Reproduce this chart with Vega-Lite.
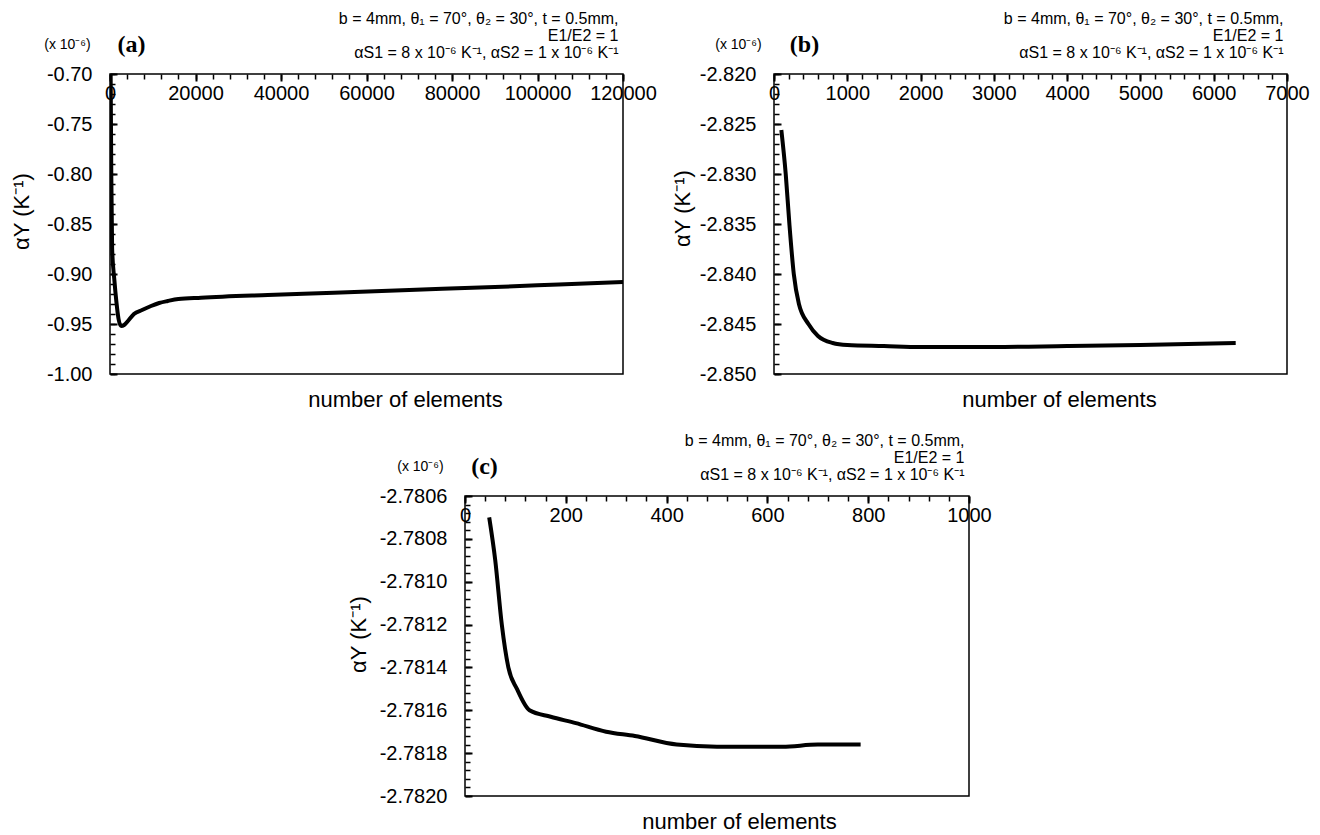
{
  "$schema": "https://vega.github.io/schema/vega-lite/v6.json",
  "padding": {"left": 9, "top": 9, "right": 5, "bottom": 5},
  "background": "white",
  "config": {
    "font": "Liberation Sans",
    "view": {"stroke": "black", "strokeWidth": 1.5},
    "axis": {"grid": false, "domain": false, "labelFont": "Liberation Sans", "titleFont": "Liberation Sans", "labelColor": "black", "titleColor": "black", "tickColor": "black", "tickWidth": 1.5, "tickOpacity": 1, "labelFontSize": 20, "titleFontWeight": "normal", "labelFlush": false, "labelOverlap": false, "labelBound": false}
  },
  "datasets": {
    "a": [
      {"elements": 150, "alpha": -0.700}, {"elements": 300, "alpha": -0.800}, {"elements": 500, "alpha": -0.875},
      {"elements": 1000, "alpha": -0.905}, {"elements": 1500, "alpha": -0.928}, {"elements": 2000, "alpha": -0.945},
      {"elements": 2600, "alpha": -0.952}, {"elements": 3300, "alpha": -0.951}, {"elements": 4200, "alpha": -0.947},
      {"elements": 5600, "alpha": -0.940}, {"elements": 7500, "alpha": -0.936}, {"elements": 9600, "alpha": -0.932},
      {"elements": 11500, "alpha": -0.929}, {"elements": 13500, "alpha": -0.927}, {"elements": 16000, "alpha": -0.925},
      {"elements": 21300, "alpha": -0.9237}, {"elements": 36900, "alpha": -0.921}, {"elements": 52400, "alpha": -0.9187},
      {"elements": 70000, "alpha": -0.916}, {"elements": 90000, "alpha": -0.913}, {"elements": 105000, "alpha": -0.9105},
      {"elements": 120000, "alpha": -0.908}
    ],
    "b": [
      {"elements": 100, "alpha": -2.8256}, {"elements": 160, "alpha": -2.8300}, {"elements": 210, "alpha": -2.8350},
      {"elements": 270, "alpha": -2.8400}, {"elements": 340, "alpha": -2.8430}, {"elements": 470, "alpha": -2.8450},
      {"elements": 600, "alpha": -2.8462}, {"elements": 800, "alpha": -2.8469}, {"elements": 1000, "alpha": -2.8471},
      {"elements": 1500, "alpha": -2.8472}, {"elements": 2000, "alpha": -2.8473}, {"elements": 3000, "alpha": -2.8473},
      {"elements": 4000, "alpha": -2.8472}, {"elements": 5000, "alpha": -2.8471}, {"elements": 6300, "alpha": -2.8469}
    ],
    "c": [
      {"elements": 48, "alpha": -2.78070}, {"elements": 60, "alpha": -2.78090}, {"elements": 73, "alpha": -2.78120},
      {"elements": 86, "alpha": -2.78140}, {"elements": 103, "alpha": -2.78150}, {"elements": 128, "alpha": -2.78160},
      {"elements": 170, "alpha": -2.78163}, {"elements": 220, "alpha": -2.78166}, {"elements": 280, "alpha": -2.78170},
      {"elements": 337, "alpha": -2.78172}, {"elements": 420, "alpha": -2.78176}, {"elements": 500, "alpha": -2.78177},
      {"elements": 630, "alpha": -2.78177}, {"elements": 700, "alpha": -2.78176}, {"elements": 785, "alpha": -2.78176}
    ]
  },
  "vconcat": [
    {
      "hconcat": [
        {
          "width": 513, "height": 300,
          "layer": [
            {
              "data": {"name": "a"},
              "mark": {"type": "line", "color": "black", "strokeWidth": 4, "clip": true, "interpolate": "monotone"},
              "encoding": {
                "x": {"field": "elements", "type": "quantitative", "scale": {"domain": [0, 120000], "nice": false, "zero": false},
                  "axis": {"orient": "top", "values": [0, 20000, 40000, 60000, 80000, 100000, 120000], "format": "d", "ticks": true, "tickSize": -7, "tickWidth": 2, "labelPadding": -12, "labelBaseline": "middle",
                    "title": ["b = 4mm, θ₁ = 70°, θ₂ = 30°, t = 0.5mm,", "E1/E2 = 1", "αS1 = 8 x 10⁻⁶ K⁻¹, αS2 = 1 x 10⁻⁶ K⁻¹"],
                    "titleFontSize": 16, "titleAlign": "right", "titleX": 508, "titleY": -56, "titleBaseline": "middle", "titleLineHeight": 17}},
                "y": {"field": "alpha", "type": "quantitative", "scale": {"domain": [-1.0, -0.7], "nice": false, "zero": false},
                  "axis": {"orient": "left", "values": [-1.0, -0.95, -0.9, -0.85, -0.8, -0.75, -0.7], "format": ".2f", "labelExpr": "replace(datum.label, '−', '-')", "ticks": true, "tickSize": -7, "tickWidth": 2, "labelPadding": 25,
                    "title": "αY (K⁻¹)", "titleFontSize": 22, "titleAngle": -90, "titleX": -89, "titleY": 137, "titleAlign": "center", "titleBaseline": "middle"}}
              }
            },
            {
              "data": {"values": []},
              "mark": {"type": "point"},
              "encoding": {
                "x": {"field": "elements", "type": "quantitative", "scale": {"domain": [0, 120000], "nice": false, "zero": false},
                  "axis": {"orient": "top", "values": [0, 120000], "labels": false, "ticks": false,
                    "title": "(a)", "titleFont": "Liberation Serif", "titleFontWeight": "bold", "titleFontSize": 24, "titleX": 21, "titleY": -30, "titleAlign": "center", "titleBaseline": "middle"}},
                "y": {"field": "alpha", "type": "quantitative", "scale": {"domain": [-1.0, -0.7], "nice": false, "zero": false},
                  "axis": {"orient": "left", "values": [-1.0, -0.7], "labels": false, "ticks": false,
                    "title": "(x 10⁻⁶)", "titleFontSize": 14, "titleAngle": 0, "titleX": -43, "titleY": -30, "titleAlign": "center", "titleBaseline": "middle"}}
              }
            },
            {
              "data": {"values": []},
              "mark": {"type": "point"},
              "encoding": {
                "x": {"field": "elements", "type": "quantitative", "scale": {"domain": [0, 120000], "nice": false, "zero": false},
                  "axis": {"orient": "top", "values": [0,4000,8000,12000,16000,20000,24000,28000,32000,36000,40000,44000,48000,52000,56000,60000,64000,68000,72000,76000,80000,84000,88000,92000,96000,100000,104000,108000,112000,116000,120000], "labels": false, "ticks": true, "tickSize": -5, "title": null}},
                "y": {"field": "alpha", "type": "quantitative", "scale": {"domain": [-1.0, -0.7], "nice": false, "zero": false},
                  "axis": {"orient": "left", "values": [-1,-0.99,-0.98,-0.97,-0.96,-0.95,-0.94,-0.93,-0.92,-0.91,-0.9,-0.89,-0.88,-0.87,-0.86,-0.85,-0.84,-0.83,-0.82,-0.81,-0.8,-0.79,-0.78,-0.77,-0.76,-0.75,-0.74,-0.73,-0.72,-0.71,-0.7], "labels": false, "ticks": true, "tickSize": -5, "title": null}}
              }
            },
            {
              "data": {"values": []},
              "mark": {"type": "point"},
              "encoding": {
                "x": {"field": "elements", "type": "quantitative", "scale": {"domain": [0, 120000], "nice": false, "zero": false},
                  "axis": {"orient": "bottom", "labels": false, "ticks": false, "title": "number of elements", "titleFontSize": 22, "titleX": 295, "titleY": 25, "titleAlign": "center", "titleBaseline": "middle"}}
              }
            }
          ],
          "resolve": {"axis": {"x": "independent", "y": "independent"}}
        },
        {
          "width": 513, "height": 300,
          "layer": [
            {
              "data": {"name": "b"},
              "mark": {"type": "line", "color": "black", "strokeWidth": 4, "clip": true, "interpolate": "monotone"},
              "encoding": {
                "x": {"field": "elements", "type": "quantitative", "scale": {"domain": [0, 7000], "nice": false, "zero": false},
                  "axis": {"orient": "top", "values": [0, 1000, 2000, 3000, 4000, 5000, 6000, 7000], "format": "d", "ticks": true, "tickSize": -7, "tickWidth": 2, "labelPadding": -12, "labelBaseline": "middle",
                    "title": ["b = 4mm, θ₁ = 70°, θ₂ = 30°, t = 0.5mm,", "E1/E2 = 1", "αS1 = 8 x 10⁻⁶ K⁻¹, αS2 = 1 x 10⁻⁶ K⁻¹"],
                    "titleFontSize": 16, "titleAlign": "right", "titleX": 509, "titleY": -56, "titleBaseline": "middle", "titleLineHeight": 17}},
                "y": {"field": "alpha", "type": "quantitative", "scale": {"domain": [-2.85, -2.82], "nice": false, "zero": false},
                  "axis": {"orient": "left", "values": [-2.85, -2.845, -2.84, -2.835, -2.83, -2.825, -2.82], "format": ".3f", "labelExpr": "replace(datum.label, '−', '-')", "ticks": true, "tickSize": -7, "tickWidth": 2, "labelPadding": 25,
                    "title": "αY (K⁻¹)", "titleFontSize": 22, "titleAngle": -90, "titleX": -92, "titleY": 134, "titleAlign": "center", "titleBaseline": "middle"}}
              }
            },
            {
              "data": {"values": []},
              "mark": {"type": "point"},
              "encoding": {
                "x": {"field": "elements", "type": "quantitative", "scale": {"domain": [0, 7000], "nice": false, "zero": false},
                  "axis": {"orient": "top", "values": [0, 7000], "labels": false, "ticks": false,
                    "title": "(b)", "titleFont": "Liberation Serif", "titleFontWeight": "bold", "titleFontSize": 24, "titleX": 30, "titleY": -30, "titleAlign": "center", "titleBaseline": "middle"}},
                "y": {"field": "alpha", "type": "quantitative", "scale": {"domain": [-2.85, -2.82], "nice": false, "zero": false},
                  "axis": {"orient": "left", "values": [-2.85, -2.82], "labels": false, "ticks": false,
                    "title": "(x 10⁻⁶)", "titleFontSize": 14, "titleAngle": 0, "titleX": -36, "titleY": -30, "titleAlign": "center", "titleBaseline": "middle"}}
              }
            },
            {
              "data": {"values": []},
              "mark": {"type": "point"},
              "encoding": {
                "x": {"field": "elements", "type": "quantitative", "scale": {"domain": [0, 7000], "nice": false, "zero": false},
                  "axis": {"orient": "top", "values": [0,200,400,600,800,1000,1200,1400,1600,1800,2000,2200,2400,2600,2800,3000,3200,3400,3600,3800,4000,4200,4400,4600,4800,5000,5200,5400,5600,5800,6000,6200,6400,6600,6800,7000], "labels": false, "ticks": true, "tickSize": -5, "title": null}},
                "y": {"field": "alpha", "type": "quantitative", "scale": {"domain": [-2.85, -2.82], "nice": false, "zero": false},
                  "axis": {"orient": "left", "values": [-2.85,-2.849,-2.848,-2.847,-2.846,-2.845,-2.844,-2.843,-2.842,-2.841,-2.84,-2.839,-2.838,-2.837,-2.836,-2.835,-2.834,-2.833,-2.832,-2.831,-2.83,-2.829,-2.828,-2.827,-2.826,-2.825,-2.824,-2.823,-2.822,-2.821,-2.82], "labels": false, "ticks": true, "tickSize": -5, "title": null}}
              }
            },
            {
              "data": {"values": []},
              "mark": {"type": "point"},
              "encoding": {
                "x": {"field": "elements", "type": "quantitative", "scale": {"domain": [0, 7000], "nice": false, "zero": false},
                  "axis": {"orient": "bottom", "labels": false, "ticks": false, "title": "number of elements", "titleFontSize": 22, "titleX": 285, "titleY": 25, "titleAlign": "center", "titleBaseline": "middle"}}
              }
            }
          ],
          "resolve": {"axis": {"x": "independent", "y": "independent"}}
        }
      ],
      "bounds": "flush",
      "spacing": 151
    },
    {
      "hconcat": [
        {
          "width": 345, "height": 300,
          "view": {"stroke": null},
          "data": {"values": []},
          "mark": {"type": "point"},
          "encoding": {}
        },
        {
          "width": 504, "height": 300,
          "layer": [
            {
              "data": {"name": "c"},
              "mark": {"type": "line", "color": "black", "strokeWidth": 4, "clip": true, "interpolate": "monotone"},
              "encoding": {
                "x": {"field": "elements", "type": "quantitative", "scale": {"domain": [0, 1000], "nice": false, "zero": false},
                  "axis": {"orient": "top", "values": [0, 200, 400, 600, 800, 1000], "format": "d", "ticks": true, "tickSize": -7, "tickWidth": 2, "labelPadding": -12, "labelBaseline": "middle",
                    "title": ["b = 4mm, θ₁ = 70°, θ₂ = 30°, t = 0.5mm,", "E1/E2 = 1", "αS1 = 8 x 10⁻⁶ K⁻¹, αS2 = 1 x 10⁻⁶ K⁻¹"],
                    "titleFontSize": 16, "titleAlign": "right", "titleX": 499, "titleY": -56, "titleBaseline": "middle", "titleLineHeight": 17}},
                "y": {"field": "alpha", "type": "quantitative", "scale": {"domain": [-2.782, -2.7806], "nice": false, "zero": false},
                  "axis": {"orient": "left", "values": [-2.782, -2.7818, -2.7816, -2.7814, -2.7812, -2.781, -2.7808, -2.7806], "format": ".4f", "labelExpr": "replace(datum.label, '−', '-')", "ticks": true, "tickSize": -7, "tickWidth": 2, "labelPadding": 25,
                    "title": "αY (K⁻¹)", "titleFontSize": 22, "titleAngle": -90, "titleX": -107, "titleY": 138, "titleAlign": "center", "titleBaseline": "middle"}}
              }
            },
            {
              "data": {"values": []},
              "mark": {"type": "point"},
              "encoding": {
                "x": {"field": "elements", "type": "quantitative", "scale": {"domain": [0, 1000], "nice": false, "zero": false},
                  "axis": {"orient": "top", "values": [0, 1000], "labels": false, "ticks": false,
                    "title": "(c)", "titleFont": "Liberation Serif", "titleFontWeight": "bold", "titleFontSize": 24, "titleX": 19, "titleY": -30, "titleAlign": "center", "titleBaseline": "middle"}},
                "y": {"field": "alpha", "type": "quantitative", "scale": {"domain": [-2.782, -2.7806], "nice": false, "zero": false},
                  "axis": {"orient": "left", "values": [-2.782, -2.7806], "labels": false, "ticks": false,
                    "title": "(x 10⁻⁶)", "titleFontSize": 14, "titleAngle": 0, "titleX": -45, "titleY": -30, "titleAlign": "center", "titleBaseline": "middle"}}
              }
            },
            {
              "data": {"values": []},
              "mark": {"type": "point"},
              "encoding": {
                "x": {"field": "elements", "type": "quantitative", "scale": {"domain": [0, 1000], "nice": false, "zero": false},
                  "axis": {"orient": "top", "values": [0,40,80,120,160,200,240,280,320,360,400,440,480,520,560,600,640,680,720,760,800,840,880,920,960,1000], "labels": false, "ticks": true, "tickSize": -5, "title": null}},
                "y": {"field": "alpha", "type": "quantitative", "scale": {"domain": [-2.782, -2.7806], "nice": false, "zero": false},
                  "axis": {"orient": "left", "values": [-2.782,-2.78196,-2.78192,-2.78188,-2.78184,-2.7818,-2.78176,-2.78172,-2.78168,-2.78164,-2.7816,-2.78156,-2.78152,-2.78148,-2.78144,-2.7814,-2.78136,-2.78132,-2.78128,-2.78124,-2.7812,-2.78116,-2.78112,-2.78108,-2.78104,-2.781,-2.78096,-2.78092,-2.78088,-2.78084,-2.7808,-2.78076,-2.78072,-2.78068,-2.78064,-2.7806], "labels": false, "ticks": true, "tickSize": -5, "title": null}}
              }
            },
            {
              "data": {"values": []},
              "mark": {"type": "point"},
              "encoding": {
                "x": {"field": "elements", "type": "quantitative", "scale": {"domain": [0, 1000], "nice": false, "zero": false},
                  "axis": {"orient": "bottom", "labels": false, "ticks": false, "title": "number of elements", "titleFontSize": 22, "titleX": 274, "titleY": 25, "titleAlign": "center", "titleBaseline": "middle"}}
              }
            }
          ],
          "resolve": {"axis": {"x": "independent", "y": "independent"}}
        }
      ],
      "bounds": "flush",
      "spacing": 10
    }
  ],
  "bounds": "flush",
  "spacing": 422
}
